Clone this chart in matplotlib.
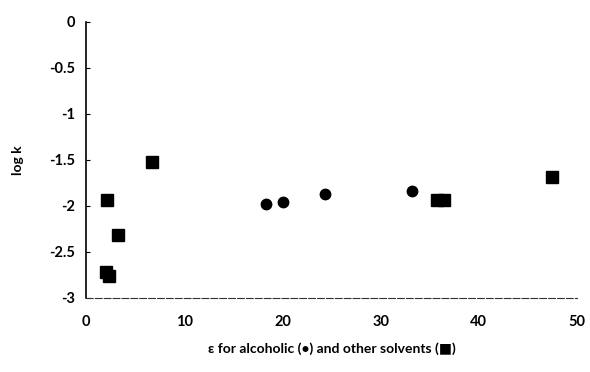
import numpy as np
import matplotlib.pyplot as plt

plt.rcParams['font.family'] = ['Lato', 'DejaVu Sans']

# ================== DATA ==================
# alcoholic solvents (circles)
eps_alc = [18.3, 20.1, 24.3, 33.2]
logk_alc = [-1.98, -1.96, -1.87, -1.84]

# other solvents (squares)
eps_other = [2.0, 2.3, 2.1, 3.2, 6.7, 35.7, 36.5, 47.5]
logk_other = [-2.72, -2.76, -1.93, -2.32, -1.52, -1.93, -1.93, -1.69]

x_ticks = [0, 10, 20, 30, 40, 50]
y_ticks = [0, -0.5, -1, -1.5, -2, -2.5, -3]
y_labels = ['0', '-0.5', '-1', '-1.5', '-2', '-2.5', '-3']

# ================== PLOT ==================
fig = plt.figure(figsize=(5.9, 3.72), dpi=100)
ax = fig.add_axes([0.146, 0.199, 0.832, 0.742])

ax.plot(eps_alc, logk_alc, 'o', color='black', ms=7.5)
ax.plot(eps_other, logk_other, 's', color='black', ms=8)

ax.set_xlim(0, 50)
ax.set_ylim(-3, 0)
ax.set_xticks(x_ticks)
ax.set_yticks(y_ticks)
ax.set_yticklabels(y_labels)

for s in ['top', 'right']:
    ax.spines[s].set_visible(False)
ax.spines['left'].set_linewidth(1.2)
ax.spines['bottom'].set_linewidth(0.8)
ax.spines['bottom'].set_linestyle((0, (6, 2)))
ax.spines['bottom'].set_color('#333333')

ax.tick_params(axis='x', length=0, pad=12, labelsize=10.5)
ax.tick_params(axis='y', length=3, direction='in', pad=8, labelsize=10.5)
for lab in ax.get_xticklabels() + ax.get_yticklabels():
    lab.set_fontweight('bold')

ax.set_xlabel("ε for alcoholic (•) and other solvents (■)",
              fontsize=10, fontweight='bold', labelpad=10,
              family=['Lato', 'DejaVu Sans'])
ax.set_ylabel("log k", fontsize=10, fontweight='bold', labelpad=18)

fig.savefig('out.png', dpi=100)
